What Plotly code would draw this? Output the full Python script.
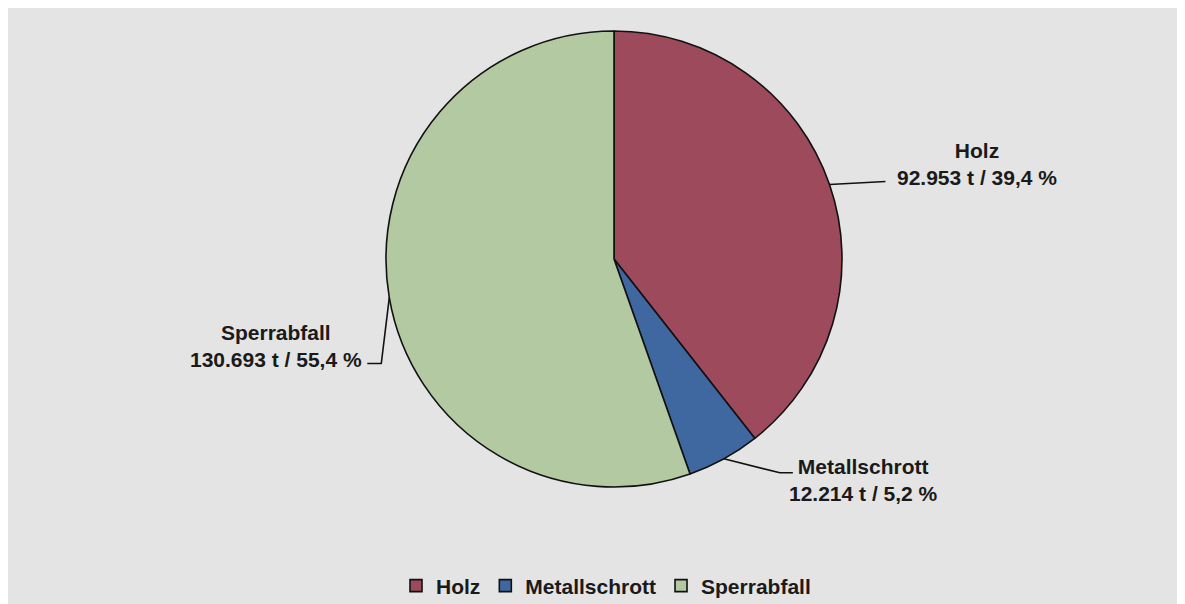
import math
import plotly.graph_objects as go

categories = ["Holz", "Metallschrott", "Sperrabfall"]
tonnes = [92953, 12214, 130693]
percent_labels = ["39,4 %", "5,2 %", "55,4 %"]
tonne_labels = ["92.953 t", "12.214 t", "130.693 t"]
colors = ["#9d4a5c", "#3f67a0", "#b2c9a2"]

W, H = 1185, 604
CX, CY, R = 606, 251, 228  # pie centre / radius in pixels (figure coords)


def px(x):
    return x / W


def py(y):
    return 1 - y / H


fig = go.Figure()
fig.add_trace(go.Pie(
    labels=categories,
    values=tonnes,
    sort=False,
    direction="clockwise",
    rotation=0,
    textinfo="none",
    hoverinfo="label+value+percent",
    marker=dict(colors=colors, line=dict(color="#111111", width=1.6)),
    domain=dict(x=[px(CX - R), px(CX + R)], y=[py(CY + R), py(CY - R)]),
))

# leader line geometry (elbow offsets relative to the slice edge) and label offsets
elbows = {
    "Holz": [(56, -3)],
    "Metallschrott": [(56, 14), (69, 14)],
    "Sperrabfall": [(-8, 66), (-22, 66)],
}
label_offsets = {
    "Holz": (148, -21),
    "Metallschrott": (140, 21),
    "Sperrabfall": (-113, 48),
}

total = sum(tonnes)
cum = 0
shapes = []
annotations = []
for cat, v, tl, pl in zip(categories, tonnes, tonne_labels, percent_labels):
    mid = (cum + v / 2) / total * 2 * math.pi
    cum += v
    ex = CX + R * math.sin(mid)
    ey = CY - R * math.cos(mid)
    pts = [(ex, ey)] + [(ex + dx, ey + dy) for dx, dy in elbows[cat]]
    path = "M " + " L ".join(f"{px(a):.5f},{py(b):.5f}" for a, b in pts)
    shapes.append(dict(type="path", xref="paper", yref="paper", path=path,
                       line=dict(color="#111111", width=1.6)))
    ox, oy = label_offsets[cat]
    annotations.append(dict(
        x=px(ex + ox), y=py(ey + oy), xref="paper", yref="paper",
        text=f"<b>{cat}<br>{tl} / {pl}</b>", showarrow=False,
        xanchor="center", yanchor="middle", align="center",
        font=dict(family="Liberation Sans, Arial, sans-serif", size=21, color="#1a1a1a"),
    ))

fig.update_layout(
    width=W, height=H,
    margin=dict(l=0, r=0, t=0, b=0),
    paper_bgcolor="#e4e4e4",
    plot_bgcolor="#e4e4e4",
    shapes=shapes,
    annotations=annotations,
    showlegend=True,
    legend=dict(
        orientation="h", x=px(598), xanchor="center", y=py(578), yanchor="middle",
        font=dict(family="Liberation Sans, Arial, sans-serif", size=21, color="#1a1a1a", weight="bold"),
        itemwidth=30, bgcolor="rgba(0,0,0,0)",
    ),
)

fig.write_html("out.html")
